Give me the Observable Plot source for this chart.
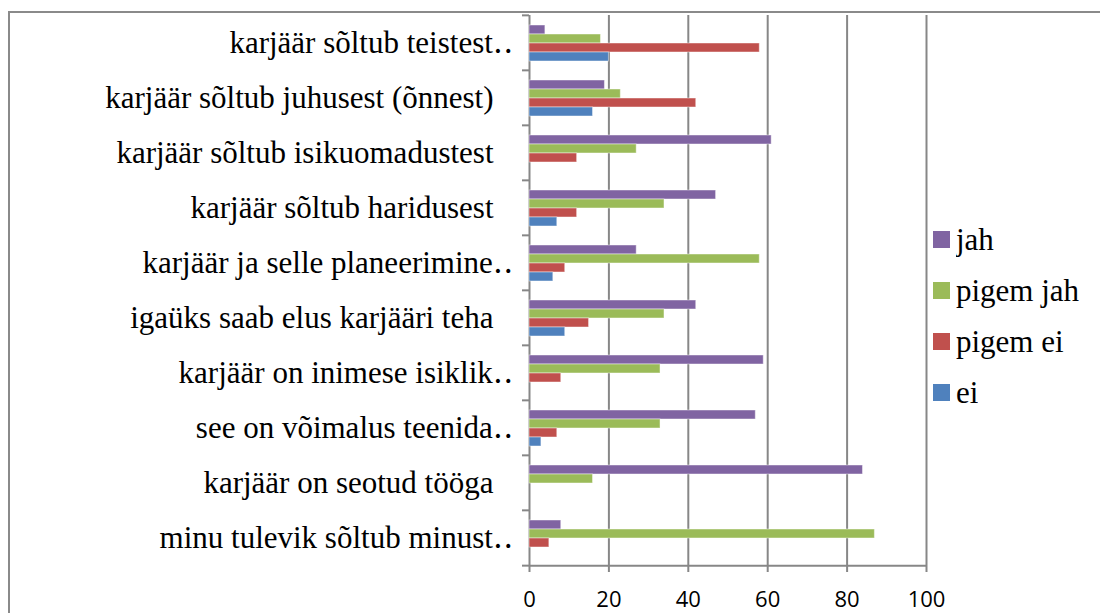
<!DOCTYPE html>
<html>
<head>
<meta charset="utf-8">
<script src="https://cdn.jsdelivr.net/npm/d3@7"></script>
<script src="https://cdn.jsdelivr.net/npm/@observablehq/plot@0.6"></script>
<style>
  html, body { margin: 0; padding: 0; background: #fff; }
  #wrap { position: relative; width: 1100px; height: 613px; overflow: hidden; }
  #chart { position: absolute; left: 0; top: 0; }
  .bt { position: absolute; left: 8px; top: 11px; width: 1092px; height: 2px; background: #8a8a8a; }
  .bl { position: absolute; left: 8px; top: 11px; width: 2px; height: 602px; background: #8a8a8a; }
  #legend { position: absolute; left: 933px; top: 214px; }
  #legend, #legend * { font-family: "Liberation Serif", "Times New Roman", "DejaVu Serif", serif !important; }
  #legend .lg-swatches { font-size: 31px !important; color: #000; }
  #legend .lg-swatch { height: 51px; display: flex; align-items: center; margin: 0 !important; padding: 0 !important; font-size: 31px !important; }
  #legend .lg-swatch svg { margin-right: 6px !important; }
  .catlab text { font-family: "Liberation Serif", "Times New Roman", "DejaVu Serif", serif !important; }
</style>
</head>
<body>
<div id="wrap">
  <div id="chart"></div>
  <div class="bt"></div>
  <div class="bl"></div>
  <div id="legend"></div>
</div>
<script>
const categories = [
  "karjäär sõltub teistest‥",
  "karjäär sõltub juhusest (õnnest)",
  "karjäär sõltub isikuomadustest",
  "karjäär sõltub haridusest",
  "karjäär ja selle planeerimine‥",
  "igaüks saab elus karjääri teha",
  "karjäär on inimese isiklik‥",
  "see on võimalus teenida‥",
  "karjäär on seotud tööga",
  "minu tulevik sõltub minust‥"
];
const series = ["jah", "pigem jah", "pigem ei", "ei"];
const colors = ["#8064A2", "#9BBB59", "#C0504D", "#4F81BD"];
const jah      = [4, 19, 61, 47, 27, 42, 59, 57, 84, 8];
const pigemJah = [18, 23, 27, 34, 58, 34, 33, 33, 16, 87];
const pigemEi  = [58, 42, 12, 12, 9, 15, 8, 7, 0, 5];
const ei       = [20, 16, 0, 7, 6, 9, 0, 3, 0, 0];
const xTicks = [0, 20, 40, 60, 80, 100];

const valuesBySeries = [jah, pigemJah, pigemEi, ei];
const data = [];
categories.forEach((c, i) => {
  series.forEach((s, j) => {
    data.push({category: c, series: s, value: valuesBySeries[j][i]});
  });
});
const bars = data.filter(d => d.value > 0);

const truncated = categories.filter(c => c.endsWith("‥"));
const full = categories.filter(c => !c.endsWith("‥"));

const W = 1100, H = 613, mt = 13, mb = 47, ml = 529, mr = 174;
const half = (H - mt - mb) / categories.length / 2;
const gray = "#878787";
const serif = "'Liberation Serif', 'Times New Roman', 'DejaVu Serif', serif";

const chart = Plot.plot({
  width: W,
  height: H,
  marginTop: mt,
  marginBottom: mb,
  marginLeft: ml,
  marginRight: mr,
  style: {background: "transparent", overflow: "visible"},
  x: {domain: [0, 100]},
  fy: {domain: categories, padding: 0, label: null},
  y: {domain: series, paddingInner: 0, paddingOuter: 0.765, axis: null},
  color: {domain: series, range: colors},
  marks: [
    Plot.gridX({ticks: xTicks.slice(1), stroke: gray, strokeOpacity: 1, strokeWidth: 2}),
    Plot.ruleX([0], {stroke: gray, strokeWidth: 2}),
    Plot.barX(bars, {x: "value", y: "series", fy: "category", fill: "series", stroke: "white", strokeOpacity: 0.45, strokeWidth: 1}),
    Plot.gridFy({ticks: [categories[categories.length - 1]], dy: half, stroke: gray, strokeOpacity: 1, strokeWidth: 2}),
    Plot.axisFy({anchor: "left", text: null, label: null, tickSize: 7, dy: -half, stroke: gray, strokeWidth: 2}),
    Plot.axisFy({anchor: "left", ticks: [categories[categories.length - 1]], text: null, label: null, tickSize: 7, dy: half, stroke: gray, strokeWidth: 2}),
    Plot.axisFy({anchor: "left", ticks: truncated, tickSize: 0, tickPadding: 16, fontSize: 31, fontFamily: serif, fill: "#000", label: null, className: "catlab"}),
    Plot.axisFy({anchor: "left", ticks: full, tickSize: 0, tickPadding: 36, fontSize: 31, fontFamily: serif, fill: "#000", label: null, className: "catlab"}),
    Plot.axisX({ticks: xTicks, tickSize: 7, tickPadding: 19, stroke: gray, strokeWidth: 2, fontSize: 22, fontFamily: "Open Sans", fill: "#000", label: null, tickFormat: d => String(d)})
  ]
});
document.getElementById("chart").appendChild(chart);

const legend = Plot.legend({
  color: {domain: series, range: colors},
  legend: "swatches",
  columns: 1,
  swatchSize: 17,
  className: "lg"
});
document.getElementById("legend").appendChild(legend);
</script>
</body>
</html>
